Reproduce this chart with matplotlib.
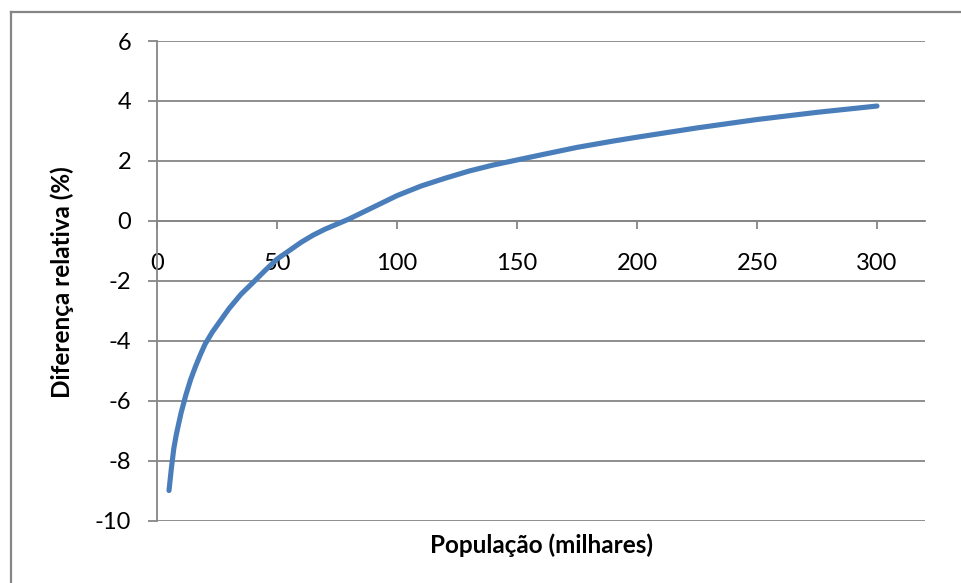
import matplotlib
matplotlib.use("Agg")
import matplotlib.pyplot as plt
from matplotlib.lines import Line2D

plt.rcParams['font.family'] = ['Lato', 'DejaVu Sans']

# Population (thousands) and relative difference (%)
populacao = [5, 6, 7, 8, 9, 10, 12, 14, 16, 18, 20, 23, 26, 30, 35, 40, 45, 50,
             55, 60, 65, 70, 75, 80, 90, 100, 110, 120, 130, 140, 150, 160, 175,
             190, 200, 225, 250, 275, 300]
diferenca = [-9.0, -8.25, -7.6, -7.15, -6.78, -6.42, -5.82, -5.3, -4.87, -4.48, -4.12,
             -3.72, -3.38, -2.93, -2.45, -2.06, -1.66, -1.28, -1.0, -0.72, -0.48,
             -0.28, -0.11, 0.06, 0.45, 0.84, 1.16, 1.42, 1.66, 1.86, 2.03, 2.2, 2.45,
             2.66, 2.79, 3.1, 3.38, 3.62, 3.83]

x_ticks = [0, 50, 100, 150, 200, 250, 300]
y_ticks = [-10, -8, -6, -4, -2, 0, 2, 4, 6]
y_tick_labels = ['-10', '-8', '-6', '-4', '-2', '0', '2', '4', '6']

grid_color = '#868686'
line_color = '#4A7EBB'

fig = plt.figure(figsize=(9.61, 5.83), dpi=100)

# chart frame (only top and left edges fall inside the image)
fig.add_artist(Line2D([11 / 961, 11 / 961], [0, 1 - 12 / 583], transform=fig.transFigure,
                      color=grid_color, lw=1.6))
fig.add_artist(Line2D([11 / 961, 1], [1 - 12 / 583, 1 - 12 / 583], transform=fig.transFigure,
                      color=grid_color, lw=1.6))

ax = fig.add_axes([157 / 961, 1 - 520.5 / 583, (925 - 157) / 961, 479.5 / 583])
ax.set_xlim(0, 320)
ax.set_ylim(-10, 6)

for yv in y_ticks:
    ax.axhline(yv, color=grid_color, lw=1.3, zorder=1)

ax.plot(populacao, diferenca, color=line_color, lw=3.7, solid_capstyle='round',
        solid_joinstyle='round', zorder=3)

for side in ['top', 'right', 'bottom']:
    ax.spines[side].set_visible(False)
ax.spines['left'].set_color(grid_color)
ax.spines['left'].set_linewidth(1.3)

# x axis crosses at y = 0
ax.xaxis.set_ticks_position('bottom')
ax.spines['bottom'].set_visible(True)
ax.spines['bottom'].set_position(('data', 0))
ax.spines['bottom'].set_color(grid_color)
ax.spines['bottom'].set_linewidth(1.3)

ax.set_xticks(x_ticks)
ax.set_xticklabels([str(v) for v in x_ticks])
ax.set_yticks(y_ticks)
ax.set_yticklabels(y_tick_labels)

ax.tick_params(axis='x', direction='out', length=5.5, width=1.3, color=grid_color,
               pad=18, labelsize=17, labelcolor='black')
ax.tick_params(axis='y', direction='out', length=6.5, width=1.3, color=grid_color,
               pad=12, labelsize=17, labelcolor='black')

fig.text(62 / 961, 1 - 282 / 583, 'Diferença relativa (%)', rotation=90,
         ha='center', va='center', fontsize=17.5, fontweight='bold')
fig.text(541 / 961, 1 - 545 / 583, 'População (milhares)',
         ha='center', va='center', fontsize=17.5, fontweight='bold')

fig.savefig('out.png', dpi=100, facecolor='white')
